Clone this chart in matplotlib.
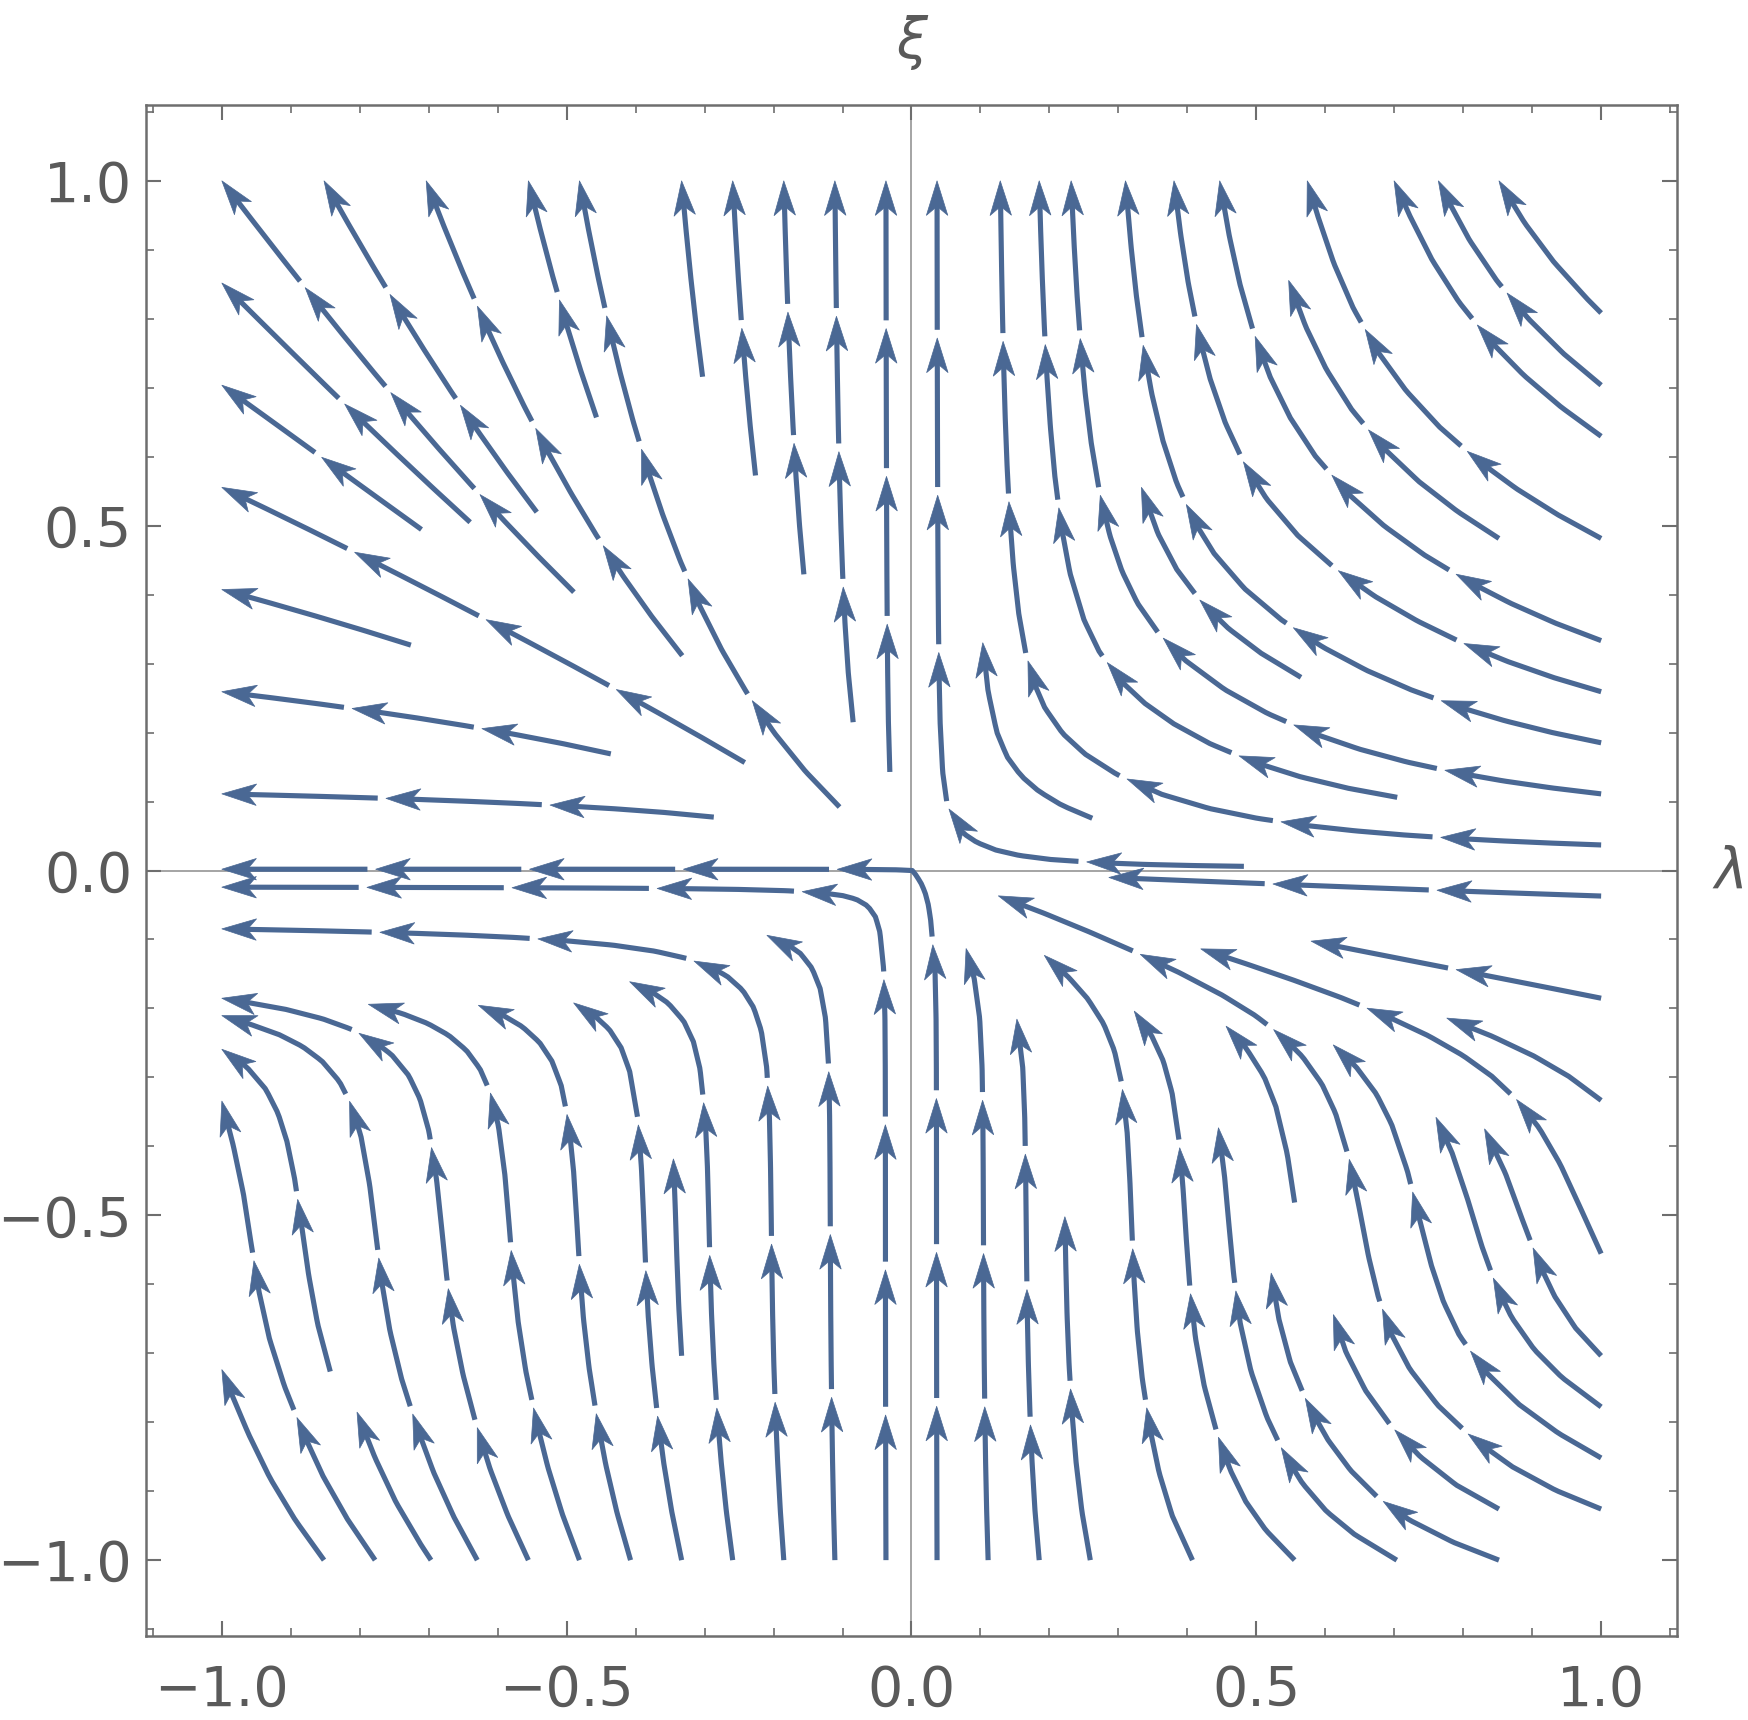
import numpy as np
import matplotlib
matplotlib.use("Agg")
import matplotlib.pyplot as plt
from matplotlib.ticker import MultipleLocator, FixedLocator
from matplotlib.collections import LineCollection, PolyCollection

# field coefficients (fitted by eye to the stream directions in the picture)
lam_range = [-1.0, 1.0]
xi_range = [-1.0, 1.0]
u_skew = 0.7            # left/right asymmetry of d(lambda), strongest at the bottom
xi_base = 1.3           # xi' ~ xi^2 near the lambda axis
xi_bump = [12.0, -0.45, 0.17]   # height, centre, width of the steep band in the lower half
xi_floor = [0.7, -1.0, 0.15]    # damping near xi = -1
lin_gain = [1.2, 0.6]   # linear xi term for lambda > 0

# axes
lim = [-1.11, 1.11]
tick_vals = [-1.0, -0.5, 0.0, 0.5, 1.0]
tick_labels = ["\u22121.0", "\u22120.5", "0.0", "0.5", "1.0"]

line_col = "#4a6894"
frame_col = "#6e6e6e"
text_col = "#5a5a5a"

# arrow look (data units, about 690 px per unit)
seg_len = 0.22
gap = 0.012
head_len = 0.05
head_w = 0.0155
notch = 0.013

lam = np.linspace(lam_range[0], lam_range[1], 301)
xi = np.linspace(xi_range[0], xi_range[1], 301)
L, X = np.meshgrid(lam, xi)

U = -L**2 * (1 + u_skew * L * (1 - X) / 2)
B = (xi_base + xi_bump[0] * np.exp(-((X - xi_bump[1]) / xi_bump[2])**2)) \
    * (1 - xi_floor[0] * np.exp(-((X - xi_floor[1]) / xi_floor[2])**2))
Lp = np.maximum(L, 1e-9)
lin = np.where(L > 0, L * np.abs(X) * np.exp(-(X / (lin_gain[1] * Lp))**2), 0.0)
V = B * X**2 + lin_gain[0] * lin

fig = plt.figure(figsize=(17.49, 17.20), dpi=100)
ax = fig.add_axes([146 / 1749, 1 - 1636 / 1720, 1531 / 1749, 1531 / 1720])

ax.axhline(0, color="#8c8c8c", lw=1.1, zorder=1)
ax.axvline(0, color="#8c8c8c", lw=1.1, zorder=1)

sp = ax.streamplot(lam, xi, U, V, color=line_col, linewidth=1, density=0.95,
                   arrowsize=0.1, minlength=0.12, zorder=2)

# take the streamlines back out and restyle them (segments with arrowheads)
segs = sp.lines.get_segments()
sp.lines.remove()
for a in list(ax.patches):
    a.remove()

paths = []
cur = None
for s in segs:
    s = np.asarray(s)
    if cur is not None and np.allclose(s[0], cur[-1]):
        cur.extend(list(s[1:]))
    else:
        if cur is not None:
            paths.append(np.array(cur))
        cur = list(s)
if cur is not None:
    paths.append(np.array(cur))


def point_at(p, cs, s):
    i = np.clip(np.searchsorted(cs, s) - 1, 0, len(cs) - 2)
    f = (s - cs[i]) / max(cs[i + 1] - cs[i], 1e-12)
    return p[i] + f * (p[i + 1] - p[i])


pieces = []
heads = []
for p in paths:
    if len(p) < 2:
        continue
    d = np.hypot(*np.diff(p, axis=0).T)
    cs = np.concatenate([[0], np.cumsum(d)])
    total = cs[-1]
    if total < 0.03:
        continue
    n = max(1, int(round(total / seg_len)))
    ends = np.linspace(0, total, n + 1)
    for k in range(n):
        a = ends[k] + (gap if k > 0 else 0)
        b = ends[k + 1] - head_len * 0.6
        if b > a:
            ss = np.linspace(a, b, 24)
            pieces.append(np.array([point_at(p, cs, s) for s in ss]))
        tip = point_at(p, cs, ends[k + 1])
        back = point_at(p, cs, max(ends[k + 1] - head_len, 0))
        dv = tip - back
        dv = dv / max(np.hypot(*dv), 1e-12)
        nv = np.array([-dv[1], dv[0]])
        heads.append([tip,
                      tip - head_len * dv + head_w * nv,
                      tip - (head_len - notch) * dv,
                      tip - head_len * dv - head_w * nv])

ax.add_collection(LineCollection(pieces, colors=line_col, linewidths=3.7,
                                 capstyle="butt", zorder=2))
ax.add_collection(PolyCollection(heads, facecolors=line_col, edgecolors=line_col,
                                 linewidths=0.5, zorder=3))

ax.set_xlim(lim)
ax.set_ylim(lim)

for s in ax.spines.values():
    s.set_color(frame_col)
    s.set_linewidth(1.8)

for axis in (ax.xaxis, ax.yaxis):
    axis.set_major_locator(FixedLocator(tick_vals))
    axis.set_minor_locator(MultipleLocator(0.1))
ax.set_xticklabels(tick_labels)
ax.set_yticklabels(tick_labels)
ax.tick_params(which="both", direction="in", top=True, right=True,
               color=frame_col, labelcolor=text_col, labelsize=40)
ax.tick_params(which="major", length=11, width=1.5)
ax.tick_params(which="minor", length=6, width=1.2)
ax.tick_params(axis="x", pad=20)
ax.tick_params(axis="y", pad=10)

fig.text(912 / 1749, 1 - 42 / 1720, "\u03be", fontsize=40, style="italic",
         color=text_col, ha="center", va="center")
fig.text(1731 / 1749, 1 - 872 / 1720, "\u03bb", fontsize=40, style="italic",
         color=text_col, ha="center", va="center")

fig.savefig("out.png", dpi=100)
